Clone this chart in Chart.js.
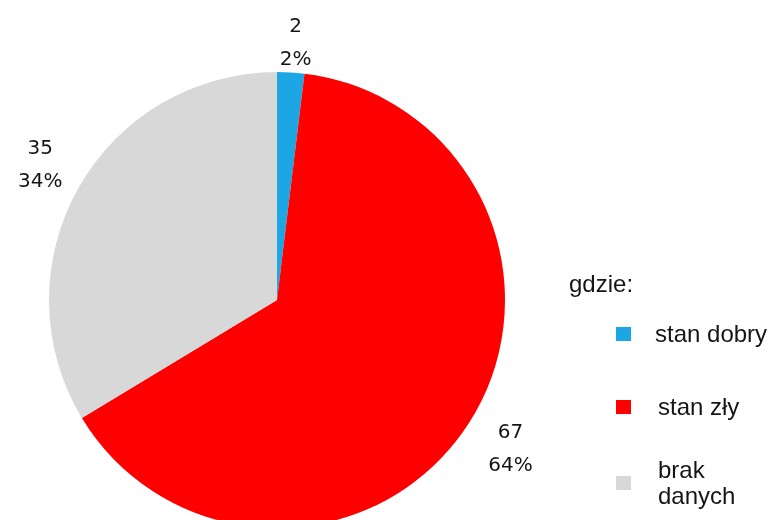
<!DOCTYPE html>
<html>
<head>
<meta charset="utf-8">
<script src="https://cdn.jsdelivr.net/npm/chart.js@4"></script>
<style>
  html, body { margin: 0; padding: 0; background: #fff; }
  #wrap { width: 777px; height: 520px; overflow: hidden; position: relative; }
</style>
</head>
<body>
<div id="wrap"><canvas id="pie" width="777" height="560"></canvas></div>
<script>
categories = ['stan dobry', 'stan zły', 'brak danych']
values = [2, 67, 35]
legendTitle = 'gdzie:'
sliceColors = ['#1CA7E4', '#FE0000', '#D8D8D8']

var total = values.reduce((a, b) => a + b, 0);

// value + percent labels placed outside each slice
var outsideLabels = {
    id: 'outsideLabels',
    afterDraw(chart) {
        var ctx = chart.ctx;
        var meta = chart.getDatasetMeta(0);
        ctx.save();
        ctx.fillStyle = '#151515';
        ctx.font = '20px "DejaVu Sans"';
        ctx.textAlign = 'center';
        ctx.textBaseline = 'middle';
        meta.data.forEach((arc, i) => {
            var p = arc.getProps(['x', 'y', 'startAngle', 'endAngle', 'outerRadius'], true);
            var mid = (p.startAngle + p.endAngle) / 2;
            var dist = p.outerRadius + 28 + 22 * Math.abs(Math.cos(mid));
            var cx = p.x + Math.cos(mid) * dist + 3;
            var cy = p.y + Math.sin(mid) * dist;
            var pct = Math.round(values[i] / total * 100) + '%';
            ctx.fillText(String(values[i]), cx, cy - 16.5);
            ctx.fillText(pct, cx, cy + 16.5);
        });
        ctx.restore();
    }
};

// legend drawn by hand on the right side
var sideLegend = {
    id: 'sideLegend',
    afterDraw(chart) {
        var ctx = chart.ctx;
        ctx.save();
        ctx.font = '24px "Liberation Sans", Arial, sans-serif';
        ctx.textBaseline = 'middle';
        ctx.fillStyle = '#151515';
        ctx.fillText(legendTitle, 569, 285);
        var rows = [334, 407, 483];
        categories.forEach((name, i) => {
            ctx.fillStyle = sliceColors[i];
            ctx.fillRect(616, rows[i] - 7, 15, 14);
            ctx.fillStyle = '#151515';
            var words = name.split(' ');
            var x = i == 0 ? 655 : 658;
            if (i == 2) {
                ctx.fillText(words[0], x, rows[i] - 12);
                ctx.fillText(words[1], x, rows[i] + 14);
            } else {
                ctx.fillText(name, x, rows[i] + 1);
            }
        });
        ctx.restore();
    }
};

var ctx = document.getElementById('pie').getContext('2d');

var myChart = new Chart(ctx, {
    type: 'pie',
    data: {
        labels: categories,
        datasets: [
            {
                data: values,
                backgroundColor: sliceColors,
                borderWidth: 0,
            }
        ]
    },
    options: {
        responsive: false,
        animation: false,
        layout: {
            padding: { left: 49, right: 272, top: 72, bottom: 32 }
        },
        plugins: {
            legend: { display: false },
            tooltip: { enabled: false }
        }
    },
    plugins: [outsideLabels, sideLegend]
})
</script>
</body>
</html>
